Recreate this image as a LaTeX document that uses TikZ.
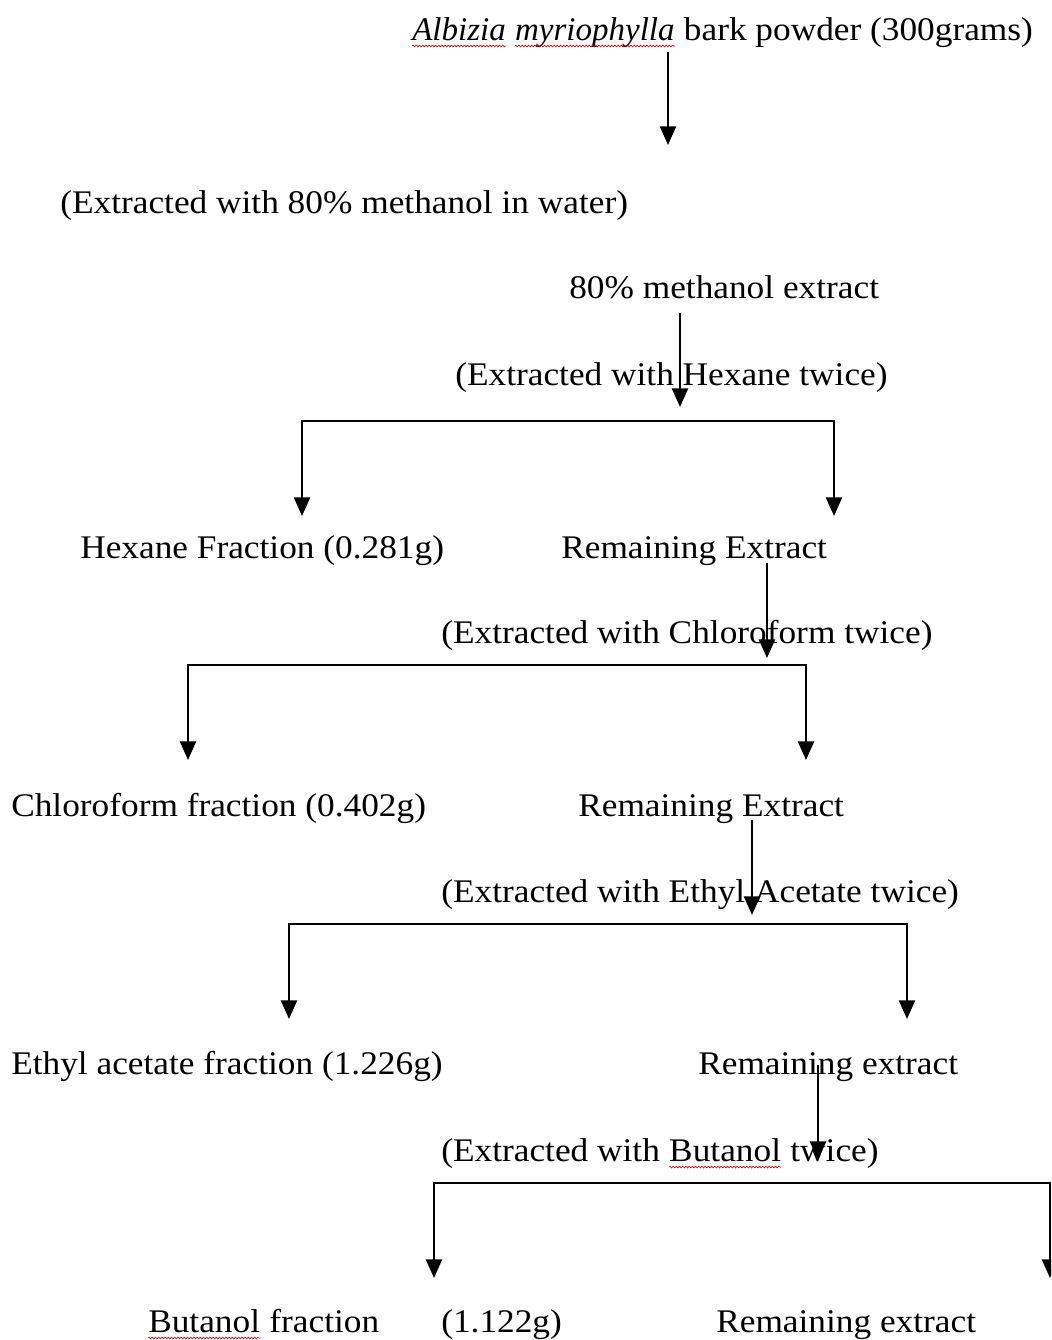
\documentclass[tikz,border=0pt]{standalone}
\usepackage{fontspec}
\setmainfont{Liberation Serif}[FakeStretch=1.07,ItalicFeatures={FakeStretch=1.0}]
\usetikzlibrary{arrows.meta,decorations.pathmorphing}
\begin{document}
\begin{tikzpicture}[x=0.75pt,y=-0.75pt,
  lbl/.style={anchor=base west,inner sep=0pt,font=\fontsize{24.75}{30}\selectfont},
  conn/.style={line width=1.85pt,-{Triangle[width=12pt,length=14pt]}},
  fork/.style={line width=1.85pt,{Triangle[width=12pt,length=14pt]}-{Triangle[width=12pt,length=14pt]}},
  wave/.style={red!85!black,line width=0.45pt,decorate,decoration={snake,segment length=2.4pt,amplitude=0.7pt}}]
\clip (0,0) rectangle (1051,1340);
\node[lbl] (n1a) at (412,40) {\textit{Albizia}};
\node[lbl] (n1b) at ([xshift=6.6pt]n1a.base east) {\textit{myriophylla}};
\node[lbl] (n1c) at ([xshift=6.6pt]n1b.base east) {bark powder (300grams)};
\node[lbl] (n2) at (60,213) {(Extracted with 80\% methanol in water)};
\node[lbl] (n3) at (569,298) {80\% methanol extract};
\node[lbl] (n4) at (455,385) {(Extracted with Hexane twice)};
\node[lbl] (n5) at (80,558) {Hexane Fraction (0.281g)};
\node[lbl] (n6) at (561,558) {Remaining Extract};
\node[lbl] (n7) at (441,643) {(Extracted with Chloroform twice)};
\node[lbl] (n8) at (11,816) {Chloroform fraction (0.402g)};
\node[lbl] (n9) at (578,816) {Remaining Extract};
\node[lbl] (n10) at (441,902) {(Extracted with Ethyl Acetate twice)};
\node[lbl] (n11) at (11,1074) {Ethyl acetate fraction (1.226g)};
\node[lbl] (n12) at (698,1074) {Remaining extract};
\node[lbl] (n13a) at (441,1161) {(Extracted with};
\node[lbl] (n13b) at ([xshift=6.6pt]n13a.base east) {Butanol};
\node[lbl] (n13c) at ([xshift=6.6pt]n13b.base east) {twice)};
\node[lbl] (n14a) at (148,1332) {Butanol};
\node[lbl] (n14b) at ([xshift=6.6pt]n14a.base east) {fraction};
\node[lbl] (n15) at (441,1332) {(1.122g)};
\node[lbl] (n16) at (716,1332) {Remaining extract};
% spelling underlines
\foreach \w in {n1a,n1b,n13b,n14a}
  \draw[wave] ([yshift=-4.5pt]\w.base west) -- ([yshift=-4.5pt]\w.base east);
% main arrows
\coordinate (s1) at (668,52);   \coordinate (e1) at (668,145);
\coordinate (s2) at (680,313);  \coordinate (e2) at (680,407);
\coordinate (s3) at (767,563);  \coordinate (e3) at (767,658);
\coordinate (s4) at (752,820);  \coordinate (e4) at (752,915);
\coordinate (s5) at (818,1065); \coordinate (e5) at (818,1160);
\draw[conn] (s1) -- (e1);
\draw[conn] (s2) -- (e2);
\draw[conn] (s3) -- (e3);
\draw[conn] (s4) -- (e4);
\draw[conn] (s5) -- (e5);
% forks
\coordinate (f1l) at (302,516); \coordinate (f1r) at (834,516);
\coordinate (f2l) at (188,760); \coordinate (f2r) at (806,760);
\coordinate (f3l) at (289,1019); \coordinate (f3r) at (907,1019);
\coordinate (f4l) at (434,1278); \coordinate (f4r) at (1050,1278);
\draw[fork] (f1l) -- ++(0,-95) -| (f1r);
\draw[fork] (f2l) -- ++(0,-95) -| (f2r);
\draw[fork] (f3l) -- ++(0,-95) -| (f3r);
\draw[fork] (f4l) -- ++(0,-95) -| (f4r);
\end{tikzpicture}
\end{document}
